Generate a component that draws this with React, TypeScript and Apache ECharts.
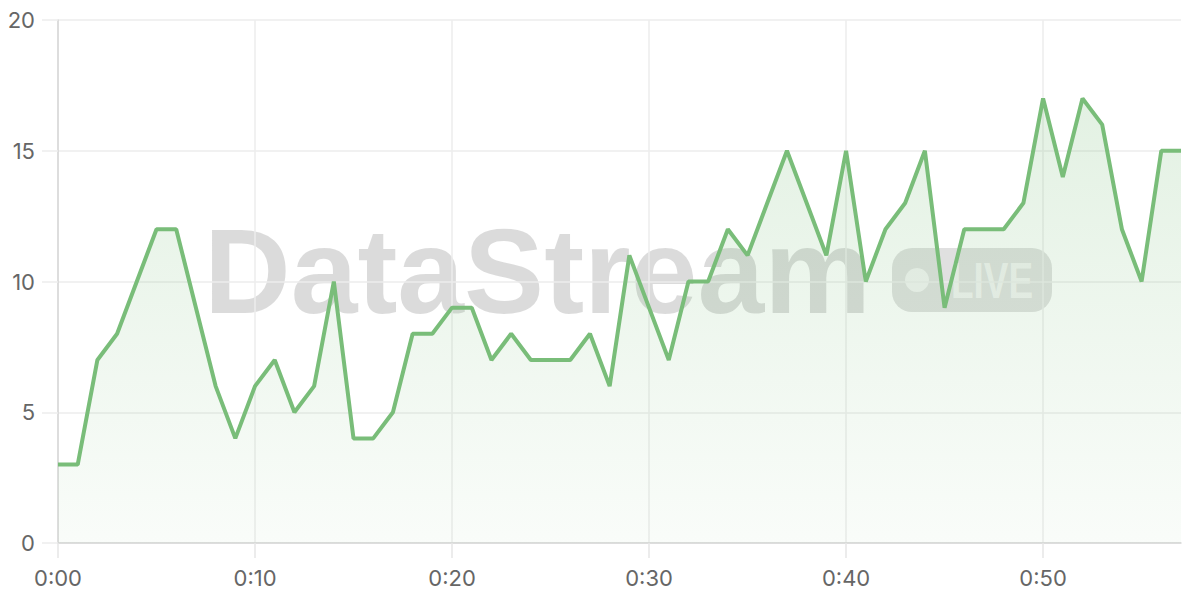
import React, { useEffect, useRef } from "react";
import * as echarts from "echarts";

const seconds: string[] = Array.from({ length: 58 }, (_, i) => `0:${String(i).padStart(2, "0")}`);
const values: number[] = [
  3, 3, 7, 8, 10, 12, 12, 9, 6, 4,
  6, 7, 5, 6, 10, 4, 4, 5, 8, 8,
  9, 9, 7, 8, 7, 7, 7, 8, 6, 11,
  9, 7, 10, 10, 12, 11, 13, 15, 13, 11,
  15, 10, 12, 13, 15, 9, 12, 12, 12, 13,
  17, 14, 17, 16, 12, 10, 15, 15,
];
const yTicks = { min: 0, max: 20, interval: 5 };
const watermarkTitle = "DataStream";
const watermarkBadge = "LIVE";

export default function App() {
  const ref = useRef<HTMLDivElement>(null);
  useEffect(() => {
    if (!ref.current) return;
    const chart = echarts.init(ref.current, undefined, { renderer: "svg" });
    const green = "#79bd79";
    chart.setOption({
      animation: false,
      grid: { left: 58, right: 19, top: 20, bottom: 57 },
      xAxis: {
        type: "category",
        data: seconds,
        boundaryGap: false,
        axisLine: { lineStyle: { color: "#d6d6d6", width: 1.5 } },
        axisTick: { interval: 9, length: 15, lineStyle: { color: "#e6e6e6", width: 1.5 } },
        axisLabel: { interval: 9, color: "#666", fontSize: 22, margin: 24, fontFamily: "Inter, sans-serif" },
        splitLine: { show: true, interval: 9, lineStyle: { color: "#ececec", width: 1.5 } },
      },
      yAxis: {
        type: "value",
        min: yTicks.min,
        max: yTicks.max,
        interval: yTicks.interval,
        axisLine: { show: true, lineStyle: { color: "#d6d6d6", width: 1.5 } },
        axisTick: { show: true, length: 16, lineStyle: { color: "#ececec", width: 1.5 } },
        axisLabel: { color: "#666", fontSize: 22, margin: 23, fontFamily: "Inter, sans-serif" },
        splitLine: { lineStyle: { color: "#ececec", width: 1.5 } },
      },
      graphic: [
        {
          type: "group",
          z: 1,
          silent: true,
          children: [
            {
              type: "text",
              x: 204,
              y: 271,
              style: {
                text: watermarkTitle,
                font: "bold 120px 'Liberation Sans', Arial, sans-serif",
                fill: "rgba(0,0,0,0.14)",
                align: "left",
                verticalAlign: "middle",
              },
            },
            {
              type: "rect",
              shape: { x: 892, y: 248, width: 160, height: 64, r: 20 },
              style: { fill: "rgba(0,0,0,0.12)" },
            },
            {
              type: "circle",
              shape: { cx: 917, cy: 280, r: 12 },
              style: { fill: "rgba(255,255,255,0.6)" },
            },
            {
              type: "text",
              x: 951,
              y: 280,
              scaleX: 0.74,
              style: {
                text: watermarkBadge,
                font: "bold 50px 'Liberation Sans', Arial, sans-serif",
                fill: "rgba(255,255,255,0.6)",
                align: "left",
                verticalAlign: "middle",
              },
            },
          ],
        },
      ],
      series: [
        {
          type: "line",
          data: values,
          z: 3,
          showSymbol: false,
          symbol: "none",
          lineStyle: { color: green, width: 4 },
          areaStyle: {
            color: new echarts.graphic.LinearGradient(0, 0, 0, 1, [
              { offset: 0, color: "rgba(121,189,121,0.3)" },
              { offset: 1, color: "rgba(121,189,121,0.06)" },
            ]),
          },
        },
      ],
    });
    return () => chart.dispose();
  }, []);
  return (
    <div
      ref={ref}
      style={{ position: "fixed", left: 0, top: 0, width: 1200, height: 600, background: "#fff" }}
    />
  );
}
